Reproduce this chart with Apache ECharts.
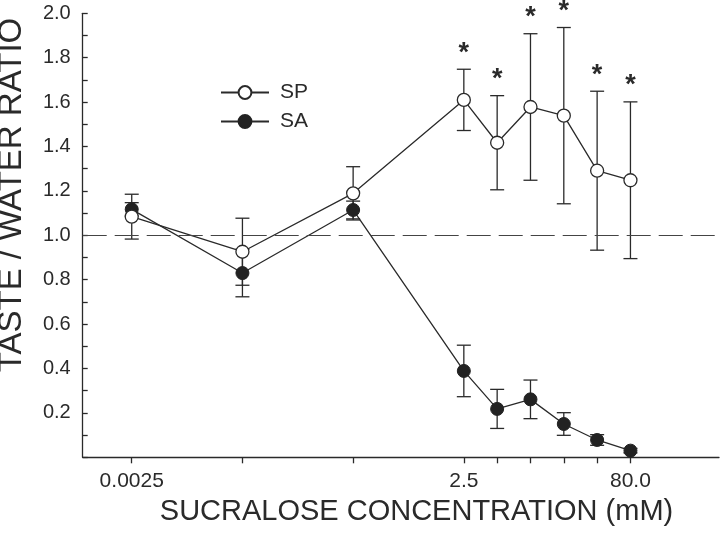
<!DOCTYPE html>
<html>
<head>
<meta charset="utf-8">
<script src="https://cdn.jsdelivr.net/npm/echarts@6/dist/echarts.min.js"></script>
<style>
  html, body { margin: 0; padding: 0; background: #fff; }
  #chart { width: 720px; height: 534px; }
</style>
</head>
<body>
<div id="chart"></div>
<script>
// ---- data ----
const concentrations = [0.0025, 0.025, 0.25, 2.5, 5, 10, 20, 40, 80];
const spMean = [1.084, 0.926, 1.189, 1.610, 1.417, 1.578, 1.539, 1.291, 1.248];
const spErr  = [0.101, 0.151, 0.120, 0.138, 0.212, 0.330, 0.397, 0.358, 0.353];
const saMean = [1.117, 0.830, 1.114, 0.389, 0.218, 0.261, 0.150, 0.078, 0.030];
const saErr  = [0.030, 0.107, 0.040, 0.116, 0.088, 0.087, 0.051, 0.024, 0.010];
const significant = [false, false, false, true, true, true, true, true, true];
const xTickLabelValues = [0.0025, 2.5, 80];
const xTickLabels = ['0.0025', '2.5', '80.0'];
const yTickLabels = ['0.2', '0.4', '0.6', '0.8', '1.0', '1.2', '1.4', '1.6', '1.8', '2.0'];
const seriesNames = ['SP', 'SA'];
const xTitle = 'SUCRALOSE CONCENTRATION (mM)';
const yTitle = 'TASTE / WATER RATIO';
const referenceRatio = 1.0;

const lx = v => Math.log10(v);
const ink = '#2a2a2a';
const FONT = 'Liberation Sans, Arial, sans-serif';

const spData = concentrations.map((c, i) => [lx(c), spMean[i], spErr[i]]);
const saData = concentrations.map((c, i) => [lx(c), saMean[i], saErr[i]]);
const starData = concentrations.map((c, i) => [lx(c), spMean[i] + spErr[i], significant[i] ? 1 : 0]);

function errorBarRender(params, api) {
  const x = api.value(0), y = api.value(1), e = api.value(2);
  const top = api.coord([x, y + e]);
  const bot = api.coord([x, y - e]);
  const hw = 7;
  const style = { stroke: ink, lineWidth: 1.3 };
  return {
    type: 'group',
    children: [
      { type: 'line', shape: { x1: top[0], y1: top[1], x2: bot[0], y2: bot[1] }, style },
      { type: 'line', shape: { x1: top[0] - hw, y1: top[1], x2: top[0] + hw, y2: top[1] }, style },
      { type: 'line', shape: { x1: bot[0] - hw, y1: bot[1], x2: bot[0] + hw, y2: bot[1] }, style }
    ]
  };
}

function starRender(params, api) {
  if (!api.value(2)) return null;
  const p = api.coord([api.value(0), api.value(1)]);
  return {
    type: 'text',
    x: p[0], y: p[1] - 16,
    style: {
      text: '*', fill: ink, fontSize: 27, fontWeight: 'bold', fontFamily: FONT,
      align: 'center', verticalAlign: 'middle'
    }
  };
}

const chart = echarts.init(document.getElementById('chart'), null, { renderer: 'canvas' });
chart.setOption({
  animation: false,
  backgroundColor: '#fff',
  grid: { left: 82.7, right: 1, top: 13.3, bottom: 76.7 },
  legend: {
    data: seriesNames,
    orient: 'vertical',
    left: 220, top: 82, padding: 0,
    itemWidth: 48, itemHeight: 16, itemGap: 8,
    selectedMode: false,
    textStyle: { fontSize: 21, color: ink, fontFamily: FONT, padding: [0, 0, 0, 6] }
  },
  xAxis: {
    type: 'value',
    min: -3.045, max: 2.703,
    splitLine: { show: false },
    axisLine: { lineStyle: { color: ink, width: 1.3 } },
    axisTick: {
      length: 6, lineStyle: { color: ink, width: 1.3 },
      customValues: concentrations.map(lx)
    },
    axisLabel: {
      fontSize: 21, color: ink, fontFamily: FONT, margin: 13,
      customValues: xTickLabelValues.map(lx),
      formatter: v => {
        let best = 0, d = Infinity;
        xTickLabelValues.forEach((t, i) => { const dd = Math.abs(lx(t) - v); if (dd < d) { d = dd; best = i; } });
        return xTickLabels[best];
      }
    }
  },
  yAxis: {
    type: 'value',
    min: 0, max: 2, interval: 0.2,
    splitLine: { show: false },
    axisLine: { show: true, onZero: false, lineStyle: { color: ink, width: 1.3 } },
    axisTick: { show: true, inside: true, length: 5, lineStyle: { color: ink, width: 1.3 } },
    minorTick: { show: true, splitNumber: 2, length: 5, lineStyle: { color: ink, width: 1.3 } },
    axisLabel: {
      fontSize: 20, color: ink, fontFamily: FONT, margin: 12,
      formatter: v => {
        const idx = Math.round(v / 0.2) - 1;
        return idx >= 0 && idx < yTickLabels.length ? yTickLabels[idx] : '';
      }
    }
  },
  graphic: [
    {
      type: 'text', x: 12, y: 195, rotation: Math.PI / 2,
      style: { text: yTitle, fill: ink, fontSize: 33, fontFamily: FONT, align: 'center', verticalAlign: 'middle' }
    },
    {
      type: 'text', x: 416.5, y: 512,
      style: { text: xTitle, fill: ink, fontSize: 29, fontFamily: FONT, align: 'center', verticalAlign: 'middle' }
    }
  ],
  series: [
    {
      type: 'custom', name: 'SA err', renderItem: errorBarRender, data: saData,
      encode: { x: 0, y: 1 }, silent: true
    },
    {
      type: 'line', name: 'SA', data: saData.map(d => [d[0], d[1]]),
      symbol: 'circle', symbolSize: 13, showAllSymbol: true,
      lineStyle: { color: ink, width: 1.3 },
      itemStyle: { color: '#222', borderColor: '#222', borderWidth: 1 },
      emphasis: { disabled: true }, silent: true,
      markLine: {
        silent: true, symbol: ['none', 'none'], label: { show: false },
        lineStyle: { color: '#444', width: 1.1, type: [24, 8] },
        data: [{ yAxis: referenceRatio }]
      }
    },
    {
      type: 'custom', name: 'SP err', renderItem: errorBarRender, data: spData,
      encode: { x: 0, y: 1 }, silent: true
    },
    {
      type: 'line', name: 'SP', data: spData.map(d => [d[0], d[1]]),
      symbol: 'circle', symbolSize: 13, showAllSymbol: true,
      lineStyle: { color: ink, width: 1.3 },
      itemStyle: { color: '#fff', borderColor: ink, borderWidth: 1.3 },
      emphasis: { disabled: true }, silent: true
    },
    {
      type: 'custom', name: 'stars', renderItem: starRender, data: starData,
      encode: { x: 0, y: 1 }, silent: true
    }
  ]
});
</script>
</body>
</html>
